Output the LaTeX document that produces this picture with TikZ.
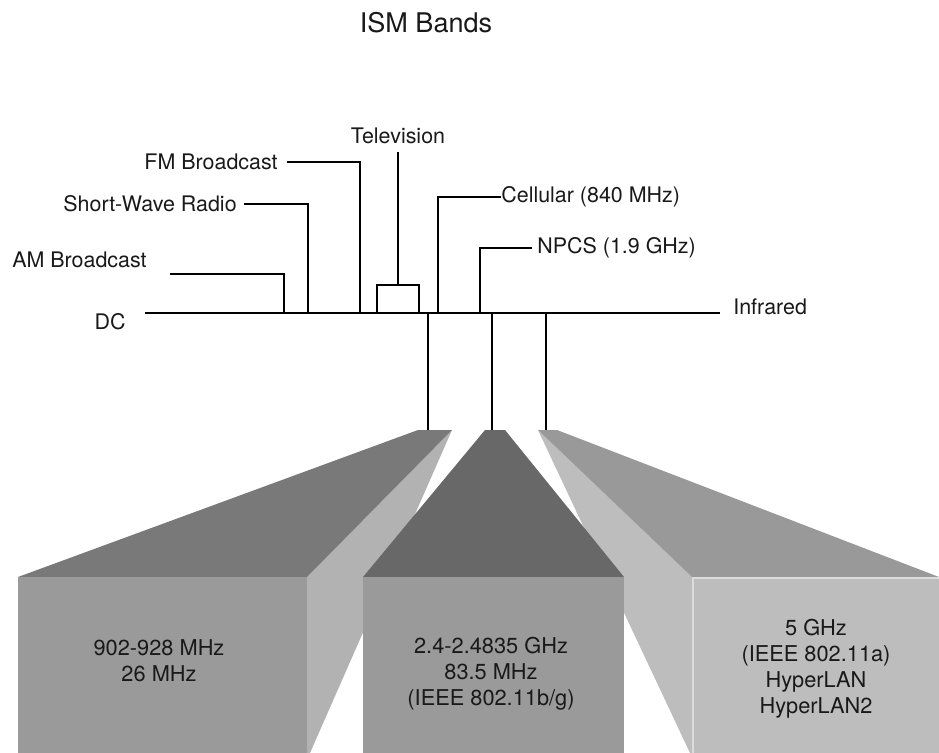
\documentclass[tikz,border=0pt]{standalone}
\usepackage{fontspec}
\setmainfont{TeX Gyre Heros}
\definecolor{frontgrey}{RGB}{154,154,154}
\definecolor{topgrey}{RGB}{121,121,121}
\definecolor{sidegrey}{RGB}{178,178,178}
\definecolor{darkgrey}{RGB}{104,104,104}
\definecolor{midgrey}{RGB}{153,153,153}
\definecolor{palegrey}{RGB}{189,189,189}
\definecolor{rimgrey}{RGB}{220,220,220}

\begin{document}
\begin{tikzpicture}[
  x=0.02cm, y=-0.02cm,
  font=\fontsize{12.2}{14.6}\selectfont,
  lbl/.style={inner sep=0pt, text=black!90},
  bandtext/.style={inner sep=0pt, align=center, text=black!90, font=\fontsize{12.4}{14.8}\selectfont},
  wire/.style={line width=0.75pt},
  tvbox/.style={draw, line width=0.75pt, minimum width=0.84cm, minimum height=0.56cm, inner sep=0pt}
]
\useasboundingbox (0,0) rectangle (939,753);

% Title
\node[lbl, font=\fontsize{15.4}{18}\selectfont] (title) at (426,23) {ISM Bands};

% Spectrum line
\node[lbl, anchor=east] (dclbl) at (126,322) {DC};
\node[lbl, anchor=west] (irlbl) at (733,307) {Infrared};
\coordinate (dc) at (145,313);
\coordinate (ir) at (720,313);
\draw[wire] (dc) -- (ir);

% Services above the line
\node[lbl, anchor=east] (amlbl) at (147,260) {AM Broadcast};
\coordinate (am0) at (170,274);
\coordinate (am) at (284,313);
\draw[wire] (am0) -| (am);

\node[lbl, anchor=east] (swlbl) at (237,204) {Short-Wave Radio};
\coordinate (sw) at (308,313);
\draw[wire] ([xshift=0.14cm]swlbl.east) -| (sw);

\node[lbl, anchor=east] (fmlbl) at (278,162) {FM Broadcast};
\coordinate (fm) at (360,313);
\draw[wire] ([xshift=0.18cm]fmlbl.east) -| (fm);

\node[lbl] (tvlbl) at (398,136) {Television};
\node[tvbox] (tv) at (398,299) {};
\draw[wire] ([yshift=-0.16cm]tvlbl.south) -- (tv.north);

\node[lbl, anchor=west] (celllbl) at (501,197) {Cellular (840 MHz)};
\coordinate (cell) at (438,313);
\draw[wire] (cell) |- (celllbl.west);

\node[lbl, anchor=west] (npcslbl) at (537,248) {NPCS (1.9 GHz)};
\coordinate (npcs) at (480,313);
\draw[wire] (npcs) |- ([xshift=-0.11cm]npcslbl.west);

% Band 3: side and top (behind band 2)
\fill[palegrey] (538,430) -- (692,577) -- (692,753) -- (690,753) -- cycle;
\fill[midgrey] (538,430) -- (557,430) -- (939,577) -- (692,577) -- cycle;

% Band 1: 902-928 MHz
\fill[sidegrey] (452,430) -- (307,577) -- (307,753) -- (310,753) -- cycle;
\fill[topgrey] (18,577) -- (418,430) -- (452,430) -- (307,577) -- cycle;
\fill[frontgrey] (18,577) rectangle (307,753);
\node[bandtext] (b1txt) at (159,661) {902-928 MHz\\26 MHz};

% Band 2: 2.4 GHz
\fill[darkgrey] (363,577) -- (485,430) -- (505,430) -- (624,577) -- cycle;
\fill[frontgrey] (363,577) rectangle (624,753);
\node[bandtext] (b2txt) at (491,674) {2.4-2.4835 GHz\\83.5 MHz\\(IEEE 802.11b/g)};

% Band 3: front
\fill[palegrey] (692,577) rectangle (939,753);
\draw[rimgrey, line width=1pt] (939,578) -- (693,578) -- (693,753);
\node[bandtext] (b3txt) at (816,669) {5 GHz\\(IEEE 802.11a)\\HyperLAN\\HyperLAN2};

% Drops from the line to the bands
\coordinate (ism1) at (428,313);
\coordinate (ism2) at (492,313);
\coordinate (ism3) at (546,313);
\coordinate (b1top) at (428,430);
\coordinate (b2top) at (492,430);
\coordinate (b3top) at (546,430);
\draw[wire] (ism1) -- (b1top);
\draw[wire] (ism2) -- (b2top);
\draw[wire] (ism3) -- (b3top);
\end{tikzpicture}
\end{document}
